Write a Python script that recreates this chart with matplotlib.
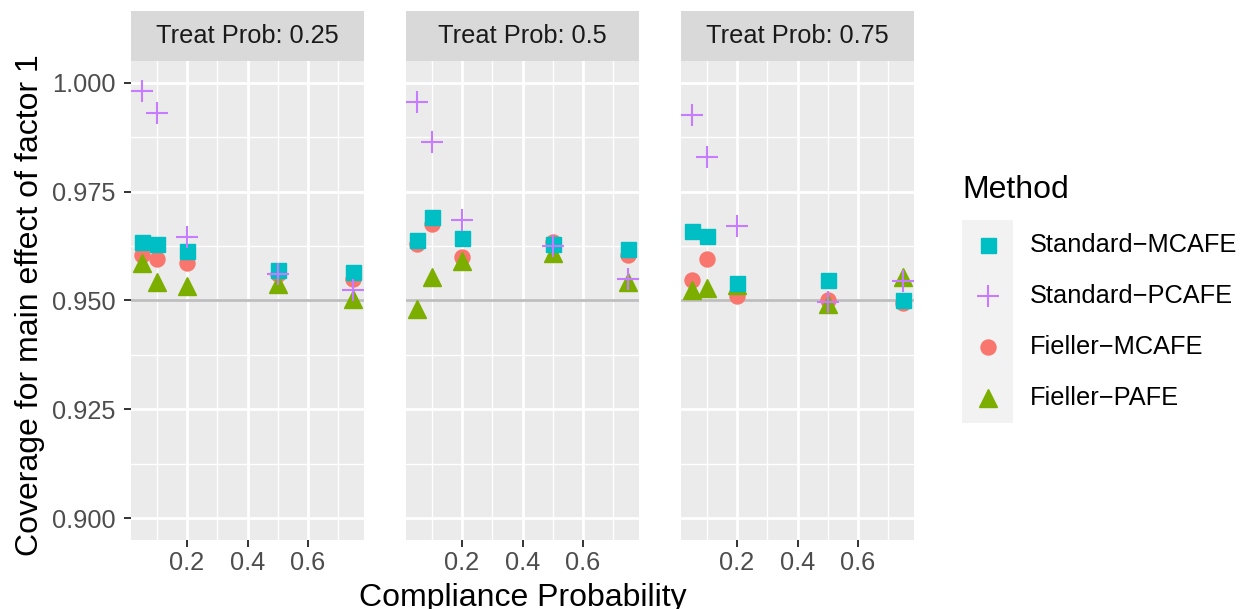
import matplotlib
matplotlib.use("Agg")
import matplotlib.pyplot as plt
from matplotlib.ticker import FixedLocator

plt.rcParams['font.family'] = ['Liberation Sans', 'DejaVu Sans']

# ---------------- data ----------------
panels = ["Treat Prob: 0.25", "Treat Prob: 0.5", "Treat Prob: 0.75"]
compliance = [0.05, 0.1, 0.2, 0.5, 0.75]

methods = ["Standard\u2212MCAFE", "Standard\u2212PCAFE", "Fieller\u2212MCAFE", "Fieller\u2212PAFE"]

standard_mcafe = [
    [0.9635, 0.9630, 0.9614, 0.9570, 0.9566],
    [0.9640, 0.9691, 0.9644, 0.9630, 0.9619],
    [0.9660, 0.9649, 0.9540, 0.9546, 0.9501],
]
standard_pcafe = [
    [0.9980, 0.9931, 0.9645, 0.9560, 0.9525],
    [0.9955, 0.9865, 0.9685, 0.9626, 0.9549],
    [0.9925, 0.9829, 0.9670, 0.9497, 0.9545],
]
fieller_mcafe = [
    [0.9605, 0.9595, 0.9585, 0.9560, 0.9550],
    [0.9630, 0.9676, 0.9601, 0.9635, 0.9605],
    [0.9546, 0.9595, 0.9510, 0.9500, 0.9495],
]
fieller_pafe = [
    [0.9585, 0.9543, 0.9534, 0.9539, 0.9503],
    [0.9481, 0.9553, 0.9590, 0.9609, 0.9543],
    [0.9524, 0.9528, 0.9535, 0.9493, 0.9555],
]

reference_level = 0.95
y_breaks = [0.900, 0.925, 0.950, 0.975, 1.000]
y_minor = [0.9125, 0.9375, 0.9625, 0.9875]
x_breaks = [0.2, 0.4, 0.6]
x_minor = [0.1, 0.3, 0.5, 0.7]

# ---------------- styles ----------------
colors = {
    methods[0]: "#00BFC4",
    methods[1]: "#C77CFF",
    methods[2]: "#F8766D",
    methods[3]: "#7CAE00",
}
marker_style = {
    methods[0]: dict(marker="s", markersize=10.8),
    methods[1]: dict(marker="+", markersize=16, markeredgewidth=1.5),
    methods[2]: dict(marker="o", markersize=10.8),
    methods[3]: dict(marker="^", markersize=13),
}
series = {
    methods[0]: standard_mcafe,
    methods[1]: standard_pcafe,
    methods[2]: fieller_mcafe,
    methods[3]: fieller_pafe,
}
draw_order = [methods[2], methods[3], methods[0], methods[1]]

W, H = 1246, 609
fig = plt.figure(figsize=(W / 100, H / 100), dpi=100)

panel_left = [131, 406, 681]
panel_w = 233
panel_top, panel_bottom = 61, 540
strip_top = 11

tick_fs = 18.3
title_fs = 23

def fx(px):
    return px / W

def fy(py):
    return 1 - py / H

axes = []
for i, name in enumerate(panels):
    ax = fig.add_axes([fx(panel_left[i]), fy(panel_bottom), panel_w / W,
                       (panel_bottom - panel_top) / H])
    ax.set_facecolor("#EBEBEB")
    for s in ax.spines.values():
        s.set_visible(False)
    ax.set_xlim(0.015, 0.785)
    ax.set_ylim(0.895, 1.005)
    ax.xaxis.set_major_locator(FixedLocator(x_breaks))
    ax.xaxis.set_minor_locator(FixedLocator(x_minor))
    ax.yaxis.set_major_locator(FixedLocator(y_breaks))
    ax.yaxis.set_minor_locator(FixedLocator(y_minor))
    ax.grid(which="major", color="white", linewidth=2.0)
    ax.grid(which="minor", color="white", linewidth=1.0)
    ax.set_axisbelow(True)
    ax.tick_params(which="minor", length=0)
    ax.tick_params(which="major", length=5, width=1.4, color="#333333",
                   labelsize=tick_fs, labelcolor="#4D4D4D")
    ax.tick_params(axis="x", pad=3)
    ax.tick_params(axis="y", pad=6)
    ax.set_xticklabels([f"{v:.1f}" for v in x_breaks])
    if i == 0:
        ax.set_yticklabels([f"{v:.3f}" for v in y_breaks])
    else:
        ax.tick_params(axis="y", left=False, labelleft=False)

    ax.axhline(reference_level, color="#BEBEBE", linewidth=2.0, zorder=1.5)

    for m in draw_order:
        ax.plot(compliance, series[m][i], linestyle="none",
                color=colors[m], markeredgecolor=colors[m],
                zorder=3, clip_on=False, **marker_style[m])

    # strip
    sax = fig.add_axes([fx(panel_left[i]), fy(panel_top), panel_w / W,
                        (panel_top - strip_top) / H])
    sax.set_facecolor("#D9D9D9")
    sax.set_xticks([])
    sax.set_yticks([])
    for s in sax.spines.values():
        s.set_visible(False)
    sax.text(0.5, 0.5, name, ha="center", va="center", fontsize=tick_fs,
             color="#1A1A1A", transform=sax.transAxes)
    axes.append(ax)

# axis titles
fig.text(fx((panel_left[0] + panel_left[2] + panel_w) / 2), fy(606),
         "Compliance Probability", ha="center", va="baseline", fontsize=title_fs,
         color="black")
fig.text(fx(30), fy((panel_top + panel_bottom) / 2 + 5),
         "Coverage for main effect of factor 1", ha="center", va="center",
         rotation=90, fontsize=title_fs, color="black")

# legend
fig.text(fx(962), fy(190), "Method", ha="left", va="center",
         fontsize=title_fs, color="black")
lkx0, lkx1, lky0, lky1 = 962, 1013, 220, 423
lax = fig.add_axes([fx(lkx0), fy(lky1), (lkx1 - lkx0) / W, (lky1 - lky0) / H])
lax.set_facecolor("#F2F2F2")
lax.set_xlim(0, 1)
lax.set_ylim(4, 0)
lax.set_xticks([])
lax.set_yticks([])
for s in lax.spines.values():
    s.set_visible(False)
for k, m in enumerate(methods):
    lax.plot([0.5], [k + 0.5], linestyle="none", color=colors[m],
             markeredgecolor=colors[m], clip_on=False, **marker_style[m])
    fig.text(fx(1030), fy(lky0 + (k + 0.5) * (lky1 - lky0) / 4), m,
             ha="left", va="center", fontsize=tick_fs, color="black")

fig.savefig("out.png", dpi=100)
